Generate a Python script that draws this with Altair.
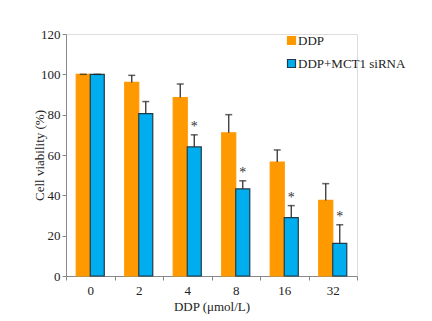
import altair as alt
import pandas as pd

doses = ["0", "2", "4", "8", "16", "32"]
ddp = [100, 96, 88.5, 71, 56.5, 37.5]
ddp_err = [0, 3.5, 6.7, 9, 6, 8.3]
sirna = [100, 80.5, 64, 43.2, 28.9, 16.2]
sirna_err = [0, 6, 6, 4, 6, 9.2]
sig = [False, False, True, True, True, True]
groups = ["DDP", "DDP+MCT1 siRNA"]

rows = []
for i, d in enumerate(doses):
    rows.append({"dose": d, "group": groups[0], "v": ddp[i], "top": ddp[i] + ddp_err[i], "sig": False})
    rows.append({"dose": d, "group": groups[1], "v": sirna[i], "top": sirna[i] + sirna_err[i], "sig": sig[i]})
df = pd.DataFrame(rows)

FONT = "Times New Roman, Liberation Serif, serif"
xenc = alt.X("dose:N", sort=doses, title="DDP (μmol/L)",
             scale=alt.Scale(paddingInner=0, paddingOuter=0),
             axis=alt.Axis(labelAngle=0, tickBand="extent", labelFontSize=13, titleFontSize=13,
                           labelPadding=4, titlePadding=3, tickSize=4,
                           domainColor="#888", tickColor="#888", labelColor="#222", titleColor="#222",
                           labelFont=FONT, titleFont=FONT, titleFontWeight="normal"))
xoff = alt.XOffset("group:N", sort=groups, scale=alt.Scale(paddingInner=0, paddingOuter=0.73))

base = alt.Chart(df)

bars = base.mark_bar(strokeWidth=1.2).encode(
    x=xenc,
    xOffset=xoff,
    y=alt.Y("v:Q", title="Cell viability (%)",
            scale=alt.Scale(domain=[0, 120], nice=False),
            axis=alt.Axis(values=[0, 20, 40, 60, 80, 100, 120], grid=False, tickSize=4,
                          labelFontSize=13, titleFontSize=13, labelPadding=2,
                          titleX=-27, titleY=121, titleAngle=270, titleBaseline="middle",
                          domainColor="#888", tickColor="#888", labelColor="#222", titleColor="#222",
                          labelFont=FONT, titleFont=FONT, titleFontWeight="normal")),
    fill=alt.Color("group:N", sort=groups, title=None,
                   scale=alt.Scale(domain=groups, range=["#FF9900", "#00AEEF"]),
                   legend=alt.Legend(orient="none", legendX=219, legendY=0, symbolType="square",
                                     symbolSize=64, labelFontSize=13, labelFont=FONT,
                                     labelColor="#222", rowPadding=9, labelOffset=0,
                                     symbolStrokeWidth=1.2)),
    stroke=alt.Stroke("group:N", sort=groups, title=None,
                      scale=alt.Scale(domain=groups, range=["#FF9900", "#1d3b4a"])),
)

err = base.mark_rule(color="#333", strokeWidth=1.3).encode(
    x=alt.X("dose:N", sort=doses), xOffset=xoff, y="v:Q", y2="top:Q")

cap = base.mark_tick(color="#222", size=7, thickness=1.5).encode(
    x=alt.X("dose:N", sort=doses), xOffset=xoff, y="top:Q")

star = base.transform_filter("datum.sig").mark_text(
    text="*", font=FONT, fontSize=14, baseline="bottom", dy=-1, color="#333").encode(
    x=alt.X("dose:N", sort=doses), xOffset=xoff, y="top:Q")

chart = alt.layer(bars, err, cap, star).properties(
    width=291, height=242,
    autosize=alt.AutoSizeParams(type="none"),
    padding={"left": 66, "top": 34, "right": 75, "bottom": 45},
).configure_view(stroke=None).configure(background="white")

chart.save("out.html", embed_options={"renderer": "svg", "actions": False})
